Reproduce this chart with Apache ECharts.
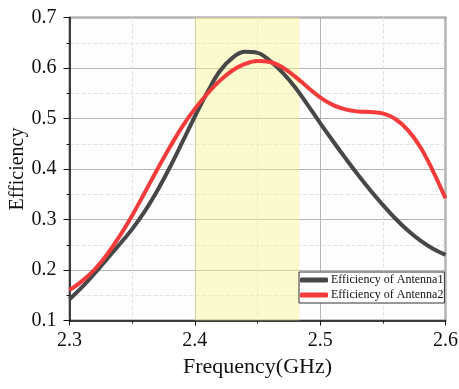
<!DOCTYPE html>
<html>
<head>
<meta charset="utf-8">
<script src="https://cdn.jsdelivr.net/npm/echarts@6/dist/echarts.min.js"></script>
<style>html,body{margin:0;padding:0;background:#fff}#c{width:459px;height:389px}</style>
</head>
<body>
<div id="c"></div>
<script>
const frequency = [2.30,2.31,2.32,2.33,2.34,2.35,2.36,2.37,2.38,2.39,2.40,2.41,2.42,2.43,2.44,2.45,2.46,2.47,2.48,2.49,2.50,2.51,2.52,2.53,2.54,2.55,2.56,2.57,2.58,2.59,2.60];
const antenna1 = [0.142,0.166,0.193,0.222,0.251,0.281,0.316,0.357,0.403,0.453,0.504,0.552,0.594,0.620,0.632,0.630,0.614,0.591,0.562,0.527,0.491,0.456,0.422,0.389,0.358,0.329,0.302,0.278,0.258,0.242,0.230];
const antenna2 = [0.160,0.178,0.201,0.231,0.267,0.308,0.353,0.399,0.443,0.484,0.519,0.549,0.575,0.595,0.608,0.614,0.612,0.601,0.583,0.562,0.542,0.527,0.518,0.514,0.513,0.510,0.499,0.477,0.443,0.396,0.342];
const band = [2.4, 2.4835];
const seriesNames = ['Efficiency of Antenna1', 'Efficiency of Antenna2'];
const xTitle = 'Frequency(GHz)';
const yTitle = 'Efficiency';

const font = 'Liberation Serif';
const chart = echarts.init(document.getElementById('c'));
const pairs = arr => frequency.map((f, i) => [f, arr[i]]);
chart.setOption({
  animation: false,
  backgroundColor: '#ffffff',
  grid: { left: 69.5, right: 13.5, top: 17.5, bottom: 68.5, containLabel: false, outerBoundsMode: 'none', show: true, borderColor: '#222', borderWidth: 1.5, backgroundColor: '#fdfdfd' },
  legend: {
    left: 299, top: 272, orient: 'vertical',
    padding: [1, 1, 1, 1], itemGap: 1,
    itemWidth: 28, itemHeight: 5, icon: 'roundRect',
    borderColor: '#333', borderWidth: 1, borderRadius: 0, backgroundColor: '#fff',
    textStyle: { fontFamily: font, fontSize: 12, color: '#111', lineHeight: 14, padding: [0, 0, 0, -2] },
    data: seriesNames
  },
  xAxis: {
    type: 'value', min: 2.3, max: 2.6, interval: 0.1,
    name: xTitle, nameLocation: 'middle', nameGap: 36, nameMoveOverlap: false,
    nameTextStyle: { fontFamily: font, fontSize: 22, color: '#111' },
    axisLine: { show: true, onZero: false, lineStyle: { color: '#111', width: 1.5 } },
    axisTick: { show: true, length: 5, lineStyle: { color: '#111' } },
    minorTick: { show: true, splitNumber: 2, length: 3, lineStyle: { color: '#111' } },
    axisLabel: { fontFamily: font, fontSize: 20, color: '#111', margin: 10, formatter: v => v.toFixed(1) },
    splitLine: { show: true, lineStyle: { color: '#b4b4b4', width: 1 } },
    minorSplitLine: { show: true, lineStyle: { color: '#e2e2e2', type: 'dashed', width: 1 } }
  },
  yAxis: {
    type: 'value', min: 0.1, max: 0.7, interval: 0.1,
    name: yTitle, nameLocation: 'middle', nameGap: 42, nameMoveOverlap: false,
    nameTextStyle: { fontFamily: font, fontSize: 20, color: '#111' },
    axisLine: { show: true, onZero: false, lineStyle: { color: '#111', width: 1.5 } },
    axisTick: { show: true, length: 6, lineStyle: { color: '#111' } },
    minorTick: { show: true, splitNumber: 2, length: 3, lineStyle: { color: '#111' } },
    axisLabel: { fontFamily: font, fontSize: 20, color: '#111', margin: 13, formatter: v => v.toFixed(1) },
    splitLine: { show: true, lineStyle: { color: '#b4b4b4', width: 1 } },
    minorSplitLine: { show: true, lineStyle: { color: '#e2e2e2', type: 'dashed', width: 1 } }
  },
  series: [
    {
      name: seriesNames[0], type: 'line', data: pairs(antenna1), smooth: 0.4,
      symbol: 'none', color: '#474747', lineStyle: { width: 4, color: '#474747' }, z: 3,
      markArea: {
        silent: true,
        itemStyle: { color: 'rgba(248,242,140,0.42)' },
        data: [[{ xAxis: band[0] }, { xAxis: band[1] }]]
      }
    },
    {
      name: seriesNames[1], type: 'line', data: pairs(antenna2), smooth: 0.4,
      symbol: 'none', color: '#f33b3b', lineStyle: { width: 4, color: '#f33b3b' }, z: 4
    }
  ]
});
</script>
</body>
</html>
